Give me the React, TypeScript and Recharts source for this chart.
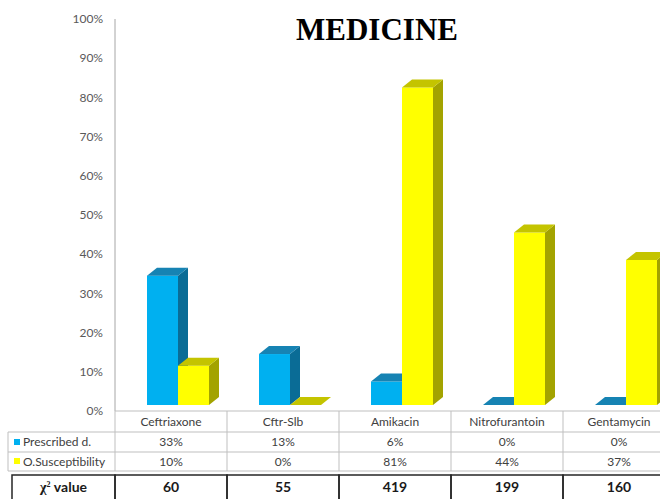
import { Bar, BarChart, XAxis, YAxis } from "recharts";

const categories = ["Ceftriaxone", "Cftr-Slb", "Amikacin", "Nitrofurantoin", "Gentamycin"];
const prescribed = [33, 13, 6, 0, 0];
const susceptibility = [10, 0, 81, 44, 37];
const chiSquare = [60, 55, 419, 199, 160];
const yTicks = [0, 10, 20, 30, 40, 50, 60, 70, 80, 90, 100];
const seriesNames = ["Prescribed d.", "O.Susceptibility"];

const data = categories.map((name, i) => ({
  name,
  prescribed: prescribed[i],
  susceptibility: susceptibility[i],
  chi: chiSquare[i],
}));

const PLOT_LEFT = 115;
const PLOT_RIGHT = 675;
const PLOT_TOP = 19;
const PLOT_BOTTOM = 411;
const BAND = (PLOT_RIGHT - PLOT_LEFT) / categories.length;
const DEPTH_X = 10;
const DEPTH_Y = 8;

const BLUE = { front: "#00B0F0", top: "#1683B3", side: "#0A6C96" };
const YELLOW = { front: "#FFFF00", top: "#C4C400", side: "#A3A300" };

const GRID = "#BFBFBF";
const TEXT = "#404040";
const tableFont = "Lato, 'Liberation Sans', sans-serif";

function make3DBar(colors: typeof BLUE) {
  return (props: any) => {
    const x = Number(props.x) + 7;
    const y = Number(props.y) - 6;
    const w = Number(props.width);
    const h = Math.max(0, Number(props.height));
    return (
      <g>
        <rect x={x} y={y} width={w} height={h} fill={colors.front} />
        <polygon
          points={`${x + w},${y} ${x + w + DEPTH_X},${y - DEPTH_Y} ${x + w + DEPTH_X},${y + h - DEPTH_Y} ${x + w},${y + h}`}
          fill={colors.side}
        />
        <polygon
          points={`${x},${y} ${x + DEPTH_X},${y - DEPTH_Y} ${x + w + DEPTH_X},${y - DEPTH_Y} ${x + w},${y}`}
          fill={colors.top}
        />
      </g>
    );
  };
}

function TableColumn(props: any) {
  const { x, payload } = props;
  const i = payload.index;
  const left = x - BAND / 2;
  const right = x + BAND / 2;
  const r1 = PLOT_BOTTOM;
  const r2 = 432;
  const r3 = 452;
  const r4 = 471;
  const r5 = 475;
  const r6 = 502;

  return (
    <g fontFamily={tableFont}>
      {i === 0 && (
        <g>
          <line x1={8} x2={left} y1={r2} y2={r2} stroke={GRID} />
          <line x1={8} x2={left} y1={r3} y2={r3} stroke={GRID} />
          <line x1={8} x2={left} y1={r4} y2={r4} stroke={GRID} />
          <line x1={8} x2={8} y1={r2} y2={r4} stroke={GRID} />
          <line x1={left} x2={left} y1={r1} y2={r4} stroke={GRID} />
          <rect x={14} y={439} width={6} height={6} fill={BLUE.front} />
          <rect x={14} y={458} width={6} height={6} fill={YELLOW.front} />
          <text x={23} y={(r2 + r3) / 2} dy="0.35em" fontSize={12} fill={TEXT}>
            {seriesNames[0]}
          </text>
          <text x={23} y={(r3 + r4) / 2} dy="0.35em" fontSize={12} fill={TEXT}>
            {seriesNames[1]}
          </text>
          <rect x={12} y={r5} width={left - 12} height={r6 - r5} fill="none" stroke="#262626" strokeWidth={1.5} />
          <text
            x={(12 + left) / 2}
            y={(r5 + 499) / 2}
            dy="0.35em"
            textAnchor="middle"
            fontSize={14}
            fontWeight="bold"
            fill="#1a1a1a"
            fontFamily="'Liberation Serif', serif"
          >
            χ<tspan dy="-5" fontSize={8}>2</tspan>
            <tspan dy="5" fontFamily={tableFont}> value</tspan>
          </text>
        </g>
      )}
      <line x1={left} x2={right} y1={r2} y2={r2} stroke={GRID} />
      <line x1={left} x2={right} y1={r3} y2={r3} stroke={GRID} />
      <line x1={left} x2={right} y1={r4} y2={r4} stroke={GRID} />
      <line x1={right} x2={right} y1={r1} y2={r4} stroke={GRID} />
      <text x={x} y={(r1 + r2) / 2} dy="0.35em" textAnchor="middle" fontSize={12} fill={TEXT}>
        {categories[i]}
      </text>
      <text x={x} y={(r2 + r3) / 2} dy="0.35em" textAnchor="middle" fontSize={12} fill={TEXT}>
        {`${prescribed[i]}%`}
      </text>
      <text x={x} y={(r3 + r4) / 2} dy="0.35em" textAnchor="middle" fontSize={12} fill={TEXT}>
        {`${susceptibility[i]}%`}
      </text>
      <rect x={left} y={r5} width={BAND} height={r6 - r5} fill="none" stroke="#262626" strokeWidth={1.5} />
      <text
        x={x}
        y={(r5 + 499) / 2}
        dy="0.35em"
        textAnchor="middle"
        fontSize={14}
        fontWeight="bold"
        fill="#1a1a1a"
      >
        {chiSquare[i]}
      </text>
    </g>
  );
}

export default function App() {
  return (
    <div
      style={{
        position: "absolute",
        left: 0,
        top: 0,
        width: 660,
        height: 499,
        overflow: "hidden",
        background: "#ffffff",
      }}
    >
      <BarChart
        width={680}
        height={499}
        data={data}
        margin={{ top: PLOT_TOP, right: 680 - PLOT_RIGHT, left: 0, bottom: 0 }}
        barSize={31}
        barGap={0}
      >
        <text
          x={377}
          y={40}
          textAnchor="middle"
          fontSize={31}
          fontWeight="bold"
          fontFamily="'Liberation Serif', 'Times New Roman', serif"
          fill="#000000"
        >
          MEDICINE
        </text>
        <YAxis
          width={PLOT_LEFT}
          domain={[0, 100]}
          ticks={yTicks}
          tickFormatter={(v: number) => `${v}%`}
          tickLine={false}
          tickMargin={6}
          axisLine={{ stroke: "#A6A6A6" }}
          tick={{ fontSize: 12, fill: "#595959", fontFamily: tableFont }}
          interval={0}
        />
        <XAxis
          dataKey="name"
          height={499 - PLOT_BOTTOM}
          tickLine={false}
          axisLine={{ stroke: GRID }}
          interval={0}
          tick={<TableColumn />}
        />
        <Bar
          dataKey="prescribed"
          name={seriesNames[0]}
          fill={BLUE.front}
          isAnimationActive={false}
          shape={make3DBar(BLUE)}
        />
        <Bar
          dataKey="susceptibility"
          name={seriesNames[1]}
          fill={YELLOW.front}
          isAnimationActive={false}
          shape={make3DBar(YELLOW)}
        />
      </BarChart>
    </div>
  );
}
